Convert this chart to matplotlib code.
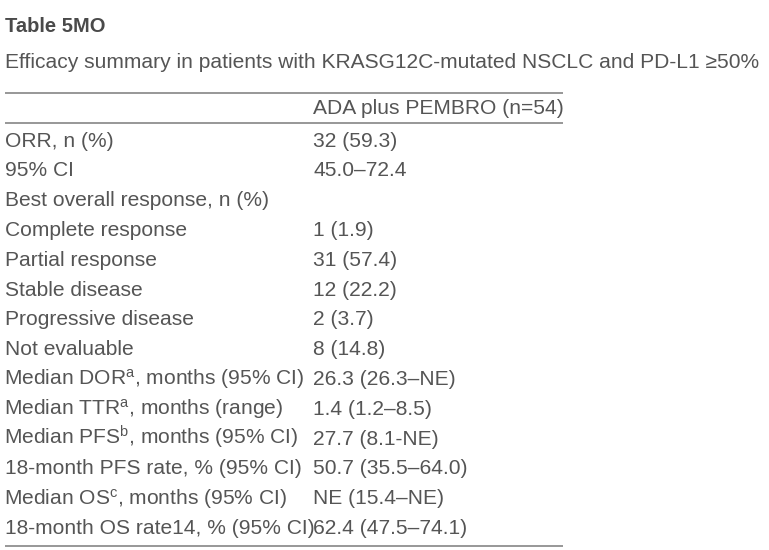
import matplotlib.pyplot as plt

# ------------------------------------------------------
# DATA
# ------------------------------------------------------
title = 'Table 5MO'
subtitle = 'Efficacy summary in patients with KRASG12C-mutated NSCLC and PD-L1 \u226550%'
col_header = 'ADA plus PEMBRO (n=54)'

row_labels = [
    'ORR, n (%)',
    '95% CI',
    'Best overall response, n (%)',
    'Complete response',
    'Partial response',
    'Stable disease',
    'Progressive disease',
    'Not evaluable',
    r'Median DOR$^{\mathrm{a}}$, months (95% CI)',
    r'Median TTR$^{\mathrm{a}}$, months (range)',
    r'Median PFS$^{\mathrm{b}}$, months (95% CI)',
    '18-month PFS rate, % (95% CI)',
    r'Median OS$^{\mathrm{c}}$, months (95% CI)',
    '18-month OS rate14, % (95% CI)',
]
row_values = [
    '32 (59.3)',
    '45.0\u201372.4',
    '',
    '1 (1.9)',
    '31 (57.4)',
    '12 (22.2)',
    '2 (3.7)',
    '8 (14.8)',
    '26.3 (26.3\u2013NE)',
    '1.4 (1.2\u20138.5)',
    '27.7 (8.1-NE)',
    '50.7 (35.5\u201364.0)',
    'NE (15.4\u2013NE)',
    '62.4 (47.5\u201374.1)',
]

# ------------------------------------------------------
# PLOT
# ------------------------------------------------------
plt.rcParams['font.family'] = ['Liberation Sans', 'DejaVu Sans']
plt.rcParams['mathtext.fontset'] = 'custom'
plt.rcParams['mathtext.rm'] = 'Liberation Sans'
plt.rcParams['mathtext.it'] = 'Liberation Sans:italic'
plt.rcParams['mathtext.bf'] = 'Liberation Sans:bold'

W, H = 769, 550
fig = plt.figure(figsize=(W / 100, H / 100), dpi=100)
ax = fig.add_axes([0, 0, 1, 1])
ax.set_xlim(0, W)
ax.set_ylim(H, 0)
ax.axis('off')

txt = '#555555'
rule = '#7a7a7a'
fs = 15.1

ax.text(5, 32.3, title, fontsize=14.5, fontweight='bold', color='#4a4a4a', va='baseline')
ax.text(5, 68.3, subtitle, fontsize=fs, color=txt, va='baseline')

# rules
for yl in [92.5, 122.8, 545.5]:
    ax.plot([5, 563], [yl, yl], color=rule, lw=1.1, solid_capstyle='butt')

x_val = 313
ax.text(x_val, 114.3, col_header, fontsize=fs, color=txt, va='baseline')

for i, (lab, val) in enumerate(zip(row_labels, row_values)):
    y = 146.6 + 29.8 * i
    # mathtext labels get a small leading pad, nudge them back
    xl = 4 if '$' in lab else 5
    ax.text(xl, y, lab, fontsize=fs, color=txt, va='baseline')
    ax.text(x_val, y, val, fontsize=fs, color=txt, va='baseline')

fig.savefig('out.png', dpi=100)
